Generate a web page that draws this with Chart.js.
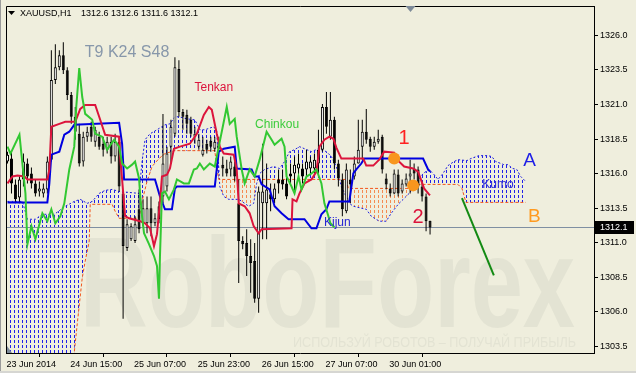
<!DOCTYPE html>
<html><head><meta charset="utf-8">
<script src="https://cdn.jsdelivr.net/npm/chart.js@4.4.1/dist/chart.umd.min.js"></script>
<style>html,body{margin:0;padding:0;background:#efeedd;}canvas{display:block;}</style>
</head><body>
<canvas id="c" width="636" height="373"></canvas>
<script>
const symbol = 'XAUUSD,H1';
const opens = [1316.87,1317.09,1315.22,1314.28,1315.58,1316.73,1316.01,1315.29,1314.71,1314.57,
1314.86,1317.01,1322.77,1323.70,1324.56,1323.48,1321.69,1320.11,1318.88,1316.87,
1318.67,1319.39,1318.31,1318.67,1318.16,1317.73,1318.31,1317.23,1318.31,1314.57,
1310.62,1311.26,1311.12,1313.42,1312.41,1312.41,1313.49,1312.41,1313.64,1314.35,
1315.07,1317.95,1318.88,1323.56,1320.46,1320.25,1319.89,1318.67,1317.95,1317.37,
1318.16,1318.38,1317.80,1318.16,1316.65,1316.37,1316.30,1316.51,1313.85,1311.12,
1310.98,1310.04,1309.68,1306.95,1313.85,1313.85,1314.50,1314.14,1315.58,1315.58,
1315.29,1316.01,1316.01,1316.37,1316.37,1316.30,1316.37,1316.37,1316.73,1317.73,
1320.82,1318.67,1319.89,1316.73,1315.58,1313.28,1315.58,1315.79,1316.73,1317.95,
1319.03,1318.52,1317.95,1318.31,1318.67,1315.65,1314.93,1314.57,1315.93,1314.71,
1315.22,1315.79,1316.37,1316.30,1315.07,1314.35,1312.6];
const highs = [1317.59,1317.59,1315.58,1315.79,1317.45,1317.09,1316.44,1315.58,1315.43,1315.29,
1317.23,1324.92,1325.35,1324.92,1325.50,1323.70,1321.90,1320.82,1319.60,1319.03,
1319.39,1319.75,1319.39,1319.03,1318.67,1318.67,1318.67,1318.88,1318.67,1314.71,
1312.70,1312.41,1312.92,1314.86,1314.14,1314.35,1314.35,1313.13,1313.99,1320.32,
1317.95,1319.89,1324.42,1324.20,1320.68,1320.61,1320.11,1319.39,1318.88,1318.67,
1318.45,1318.67,1318.67,1318.67,1317.23,1317.01,1317.23,1316.87,1315.58,1311.48,
1311.98,1311.26,1310.98,1315.07,1318.16,1316.73,1315.29,1315.29,1316.30,1316.30,
1316.30,1316.73,1317.23,1317.45,1316.73,1317.73,1317.23,1317.45,1319.17,1321.04,
1321.90,1321.90,1320.11,1317.01,1316.01,1316.73,1316.30,1317.23,1319.89,1319.89,
1320.68,1318.67,1318.67,1319.17,1318.81,1316.01,1315.29,1316.30,1316.30,1315.58,
1316.01,1317.01,1316.73,1316.51,1315.43,1314.57,1312.6];
const lows = [1316.73,1314.57,1313.85,1313.85,1315.07,1315.29,1314.93,1314.35,1314.35,1314.28,
1314.57,1316.87,1322.48,1323.48,1323.20,1321.33,1319.60,1318.45,1316.51,1316.51,
1318.31,1318.31,1317.95,1317.73,1317.23,1317.45,1316.73,1316.87,1314.71,1305.51,
1310.40,1311.12,1310.98,1311.69,1312.20,1311.69,1311.48,1312.20,1312.41,1313.85,
1314.71,1316.73,1318.67,1320.11,1319.17,1318.88,1318.67,1318.16,1317.73,1317.23,
1317.45,1317.59,1317.59,1317.59,1315.79,1315.79,1315.79,1315.43,1308.10,1310.54,
1308.60,1307.38,1306.66,1305.94,1311.26,1311.26,1313.28,1313.85,1314.57,1314.86,
1314.14,1315.29,1314.57,1315.79,1315.29,1315.79,1316.01,1316.01,1316.01,1317.59,
1318.88,1318.45,1316.30,1315.07,1312.92,1313.13,1313.85,1315.58,1316.73,1317.01,
1318.16,1317.59,1317.73,1318.16,1316.01,1314.86,1314.35,1314.50,1314.35,1314.57,
1315.07,1314.57,1315.58,1314.57,1313.99,1311.84,1311.6];
const closes = [1317.37,1315.29,1314.14,1315.58,1316.87,1315.79,1315.29,1314.57,1314.93,1314.93,
1316.87,1322.77,1323.70,1324.56,1323.48,1321.69,1320.11,1319.03,1316.73,1318.67,
1319.03,1318.67,1319.17,1317.95,1317.73,1318.31,1317.23,1318.31,1315.07,1310.76,
1312.34,1312.20,1312.34,1311.98,1313.49,1313.49,1312.41,1312.77,1312.70,1316.73,
1317.45,1319.39,1323.70,1320.46,1320.11,1319.60,1318.88,1318.88,1318.45,1317.73,
1317.73,1317.95,1318.31,1317.80,1316.37,1316.01,1316.87,1315.79,1311.12,1310.90,
1310.04,1309.54,1306.95,1314.71,1314.71,1314.86,1314.14,1314.93,1315.29,1315.22,
1314.35,1315.79,1316.65,1316.73,1315.79,1316.87,1316.87,1317.01,1317.73,1320.82,
1319.39,1319.89,1316.73,1315.65,1313.42,1316.30,1315.22,1316.73,1317.73,1319.03,
1318.45,1317.95,1318.31,1318.52,1316.30,1315.22,1314.57,1316.01,1314.57,1315.29,
1315.65,1316.01,1316.01,1315.07,1314.35,1312.56,1312.1];

// Ichimoku lines: [bar index, price] vertices
const tenkan = [[0,1315.29],[1.25,1315.79],[2.5,1315.86],[4.25,1315.79],[5,1315.58],[10,1315.58],[10.5,1316.30],[11,1319.39],[13,1319.60],[14.5,1319.75],[17,1319.75],[18.25,1320.68],[19.5,1320.97],[22,1320.97],[23,1320.11],[24.5,1318.81],[28,1318.67],[28.25,1317.23],[28.75,1315.58],[29.5,1312.92],[30.5,1312.77],[33.25,1312.56],[34.5,1312.41],[35.75,1312.05],[36.75,1310.76],[37.5,1311.62],[38.25,1313.99],[38.75,1315.79],[40,1315.93],[40.75,1316.37],[41.75,1317.80],[43.25,1317.95],[45.75,1318.16],[47.5,1318.88],[49.25,1320.25],[50.5,1320.82],[51.25,1320.61],[52.5,1318.88],[53.25,1317.95],[54.25,1317.45],[56.75,1317.37],[57.5,1316.30],[58,1313.85],[59.5,1313.64],[60.75,1313.13],[61.75,1312.20],[63,1311.69],[63.75,1311.98],[71.25,1312.05],[71.5,1314.14],[72.5,1313.99],[73.25,1314.57],[74.5,1315.29],[76.25,1315.58],[77.5,1316.15],[78.25,1317.95],[79.5,1318.45],[80.75,1318.67],[81.75,1318.52],[82.5,1317.88],[83.75,1317.09],[89.25,1317.09],[90,1316.58],[91.75,1316.58],[93.25,1317.01],[94.5,1317.59],[97,1317.52],[98.25,1316.87],[99.5,1316.51],[101.75,1316.37],[103,1316.15],[104.5,1314.93],[105.75,1314.50],[106,1314.43]];
const kijun = [[0,1313.92],[10,1313.92],[10.5,1315.29],[11,1317.37],[13,1317.59],[14.25,1318.81],[15.5,1319.03],[16.75,1319.53],[28,1319.67],[28.75,1318.16],[29.25,1315.58],[37,1315.58],[38.25,1314.35],[39.5,1313.42],[41.25,1313.42],[42,1314.93],[42.5,1315.07],[52,1315.07],[53,1317.59],[54.25,1317.80],[57,1317.95],[57.5,1316.37],[61.25,1316.30],[62,1315.79],[63,1315.79],[63.75,1315.22],[65.75,1314.86],[67,1313.64],[68.75,1313.13],[70.5,1312.70],[74.5,1312.70],[76.25,1312.05],[77.5,1312.05],[78.75,1313.06],[80,1313.42],[80.75,1313.99],[85.75,1313.99],[86.75,1316.01],[87.5,1316.30],[88.75,1316.73],[89.5,1317.09],[104.25,1317.09],[105.5,1316.30],[106,1316.15]];
const chinkou = [[0,1317.95],[0.75,1317.45],[3,1318.81],[4.5,1314.57],[5,1310.90],[6,1312.20],[7,1311.26],[8.75,1313.13],[10,1312.56],[11,1313.42],[12,1312.41],[13.25,1312.92],[14.25,1313.85],[15.5,1316.30],[16.75,1317.95],[17.25,1320.82],[18,1323.63],[18.75,1321.54],[19.5,1320.32],[21.25,1319.89],[22,1318.88],[23.75,1318.67],[25,1317.73],[26.75,1318.45],[28,1317.95],[28.75,1316.73],[30,1316.37],[31.25,1316.65],[32,1316.87],[33,1315.65],[33.25,1314.57],[33.75,1312.92],[34.25,1311.69],[35.5,1310.90],[36.75,1310.04],[37.5,1309.32],[38,1306.95],[38.25,1310.04],[38.75,1314.57],[39.5,1314.71],[40.5,1314.14],[41.75,1314.86],[42.5,1315.58],[44.25,1315.29],[45.5,1315.29],[46.75,1316.30],[47.5,1316.37],[48.25,1316.73],[49.25,1316.30],[50.75,1316.73],[52,1316.51],[53.25,1318.31],[55,1320.82],[55.75,1319.60],[57,1319.96],[57.5,1318.67],[58.75,1316.30],[59.5,1315.29],[60.75,1316.30],[62,1315.79],[63.25,1317.01],[64.25,1318.16],[65,1319.03],[66.25,1318.45],[67,1318.09],[68.75,1318.52],[69.5,1317.95],[70,1315.79],[71.25,1315.07],[72,1314.57],[73,1315.79],[73.75,1314.86],[75,1315.79],[76.25,1316.01],[77.5,1316.30],[78.75,1315.29],[79.5,1313.85],[80.5,1312.92],[81,1312.41],[82,1312.12]];
const spanA = [[0,1313.99],[3.75,1313.99],[5,1312.70],[7,1312.70],[8.75,1313.06],[11.75,1313.06],[14.5,1313.64],[16.75,1313.99],[18.25,1314.14],[20,1313.85],[21.25,1313.99],[23,1314.57],[24.5,1314.79],[26.25,1314.86],[28,1314.71],[33,1314.57],[33.75,1316.87],[34.5,1318.45],[35.75,1318.88],[37.5,1319.17],[39.5,1319.53],[40.75,1319.60],[42,1320.11],[43,1320.11],[45,1319.96],[47,1319.89],[48.25,1319.17],[49.5,1319.17],[51.75,1319.39],[52.5,1319.03],[53.25,1315.07],[54.25,1314.35],[55.5,1314.14],[58,1314.14],[59.5,1313.85],[60.5,1313.64],[61.75,1313.85],[62.5,1315.29],[63.25,1316.01],[64.5,1316.30],[66.75,1316.51],[68.25,1316.37],[69.5,1316.87],[70.75,1317.59],[72,1317.73],[73.25,1317.95],[74.5,1317.80],[76.25,1317.59],[78,1317.80],[80,1317.59],[81.25,1317.23],[82.5,1316.51],[83.75,1315.07],[85.75,1313.85],[86.75,1313.64],[90,1313.42],[91.25,1312.92],[93.25,1312.56],[95,1312.56],[96.25,1313.13],[98,1313.78],[99.25,1314.14],[100.75,1314.57],[102.5,1315.22],[104.25,1316.01],[105.75,1316.30],[107,1315.93],[108,1315.58],[109.25,1316.01],[110.5,1316.58],[112,1316.87],[113,1317.01],[115.25,1316.94],[116.25,1317.09],[118.25,1317.30],[120.5,1317.30],[121.5,1317.23],[122.5,1316.87],[124.5,1316.65],[125.5,1316.65],[126.75,1316.37],[127.75,1316.30],[128.75,1315.79],[130,1315.43]];
const spanB = [[0,1298.18],[15.25,1298.18],[16.75,1303.07],[17.5,1305.15],[18.75,1308.46],[19.5,1309.68],[20.5,1311.12],[20.75,1313.78],[26.25,1313.78],[27,1313.28],[28,1312.77],[33,1312.77],[33.75,1313.99],[35,1315.43],[36.25,1316.51],[38,1317.09],[39.5,1317.45],[42,1317.66],[52,1317.66],[52.5,1316.51],[53,1315.58],[85,1315.58],[85.5,1314.93],[101.75,1314.93],[102.25,1315.22],[113,1315.22],[114,1314.93],[115,1313.92],[130,1313.92]];

// drawn marks
const markBars = [97, 101.75];
const markPrices = [1317.09, 1315.15];
const arrowBars = [114, 122];
const arrowPrices = [1314.23, 1308.65];

const xTickBars = [0, 16, 32, 48, 64, 80, 96];
const xTickLabels = ['23 Jun 2014', '24 Jun 15:00', '25 Jun 07:00', '25 Jun 23:00', '26 Jun 15:00', '27 Jun 07:00', '30 Jun 01:00'];
const yTicks = [1303.5, 1306.0, 1308.5, 1311.0, 1313.5, 1316.0, 1318.5, 1321.0, 1323.5, 1326.0];

const notes = [
  {text:'T9 K24 S48', bar:19.4, price:1324.45, color:'#8797aa', size:16},
  {text:'Tenkan', bar:46.9, price:1321.94, color:'#dc143c', size:12},
  {text:'Chinkou', bar:62.1, price:1319.28, color:'#3ccc3c', size:12},
  {text:'Kijun', bar:79.4, price:1312.2, color:'#2525d4', size:12},
  {text:'Kumo', bar:119.1, price:1314.97, color:'#3030d8', size:12},
  {text:'1', bar:98.1, price:1318.13, color:'#ff2020', size:20},
  {text:'2', bar:101.6, price:1312.45, color:'#dc143c', size:20},
  {text:'A', bar:129.4, price:1316.55, color:'#1e1ee6', size:19},
  {text:'B', bar:130.6, price:1312.52, color:'#ff9a1f', size:19}
];

const FONT = '"Liberation Sans", Arial, sans-serif';
Chart.defaults.font.family = FONT;
const canvas = document.getElementById('c');
const ctx = canvas.getContext('2d');

function hatch(color) {
  const c = document.createElement('canvas');
  c.width = 4; c.height = 5;
  const g = c.getContext('2d');
  g.fillStyle = color;
  g.fillRect(2, 0, 1, 3);
  return ctx.createPattern(c, 'repeat');
}
const pts = arr => arr.map(([x, y]) => ({x, y}));
const last = closes.length - 1;

const decor = {
  id: 'decor',
  beforeDraw(chart) {
    const c = chart.ctx;
    c.save();
    c.fillStyle = '#efeedd';
    c.fillRect(0, 0, chart.width, chart.height);
    c.fillStyle = '#9a9a9a'; c.fillRect(0, 0, 1, chart.height);
    c.fillStyle = '#d6d6d2'; c.fillRect(0, chart.height - 2, chart.width, 2);
    c.fillStyle = '#e3e3d3';
    c.font = 'bold 128px ' + FONT;
    c.textBaseline = 'alphabetic'; c.textAlign = 'left';
    let w = c.measureText('RoboForex').width;
    c.save(); c.translate(80, 327); c.scale(495 / w, 1); c.fillText('RoboForex', 0, 0); c.restore();
    c.font = '14px ' + FONT;
    const sub = 'ИСПОЛЬЗУЙ РОБОТОВ – ПОЛУЧАЙ ПРИБЫЛЬ';
    w = c.measureText(sub).width;
    c.save(); c.translate(293, 347); c.scale(283 / w, 1); c.fillText(sub, 0, 0); c.restore();
    c.restore();
  },
  beforeDatasetsDraw(chart) {
    const c = chart.ctx, a = chart.chartArea, y = chart.scales.y;
    const py = Math.floor(y.getPixelForValue(closes[last])) + 0.5;
    c.save();
    c.strokeStyle = '#7f8fa2'; c.lineWidth = 1;
    c.beginPath(); c.moveTo(a.left, py); c.lineTo(a.right, py); c.stroke();
    c.restore();
  },
  afterDatasetsDraw(chart) {
    const c = chart.ctx, x = chart.scales.x, y = chart.scales.y;
    c.save();
    c.textAlign = 'left'; c.textBaseline = 'alphabetic';
    notes.forEach(n => {
      c.font = n.size + 'px ' + FONT;
      c.fillStyle = n.color;
      c.fillText(n.text, x.getPixelForValue(n.bar), y.getPixelForValue(n.price));
    });
    c.restore();
  },
  afterDraw(chart) {
    const c = chart.ctx, a = chart.chartArea, y = chart.scales.y, x = chart.scales.x;
    c.save();
    c.strokeStyle = '#000'; c.lineWidth = 1;
    c.beginPath();
    c.moveTo(a.left + 0.5, a.bottom); c.lineTo(a.left + 0.5, a.top + 0.5); c.lineTo(a.right + 1, a.top + 0.5);
    c.stroke();
    const mx = Math.round(x.getPixelForValue(101)) + 0.5;
    c.fillStyle = '#7d8a98';
    c.beginPath(); c.moveTo(mx - 5, a.top); c.lineTo(mx + 5, a.top); c.lineTo(mx, a.top + 6); c.closePath(); c.fill();
    c.beginPath(); c.moveTo(a.left + 1, a.bottom - 7); c.lineTo(a.left + 1, a.bottom); c.lineTo(a.left + 6, a.bottom); c.closePath(); c.fill();
    c.fillStyle = '#000';
    c.beginPath(); c.moveTo(8, 11); c.lineTo(15, 11); c.lineTo(11.5, 15); c.closePath(); c.fill();
    c.font = '9px ' + FONT; c.textBaseline = 'alphabetic'; c.textAlign = 'left';
    c.fillText(symbol, 20, 16);
    c.fillText([opens[last], highs[last], lows[last], closes[last]].map(v => v.toFixed(1)).join(' '), 81, 16);
    const py = Math.floor(y.getPixelForValue(closes[last]));
    c.fillStyle = '#000';
    c.fillRect(a.right + 1, py - 6, 39, 13);
    c.fillStyle = '#fff';
    c.textBaseline = 'middle';
    c.fillText(closes[last].toFixed(1), a.right + 6, py + 0.5);
    c.restore();
  }
};

new Chart(ctx, {
  type: 'bar',
  data: {
    datasets: [
      {type:'line', label:'Senkou Span A', data: pts(spanA), borderColor:'#1c1ce0', borderWidth:1, borderDash:[2,2],
       pointRadius:0, tension:0, order:20,
       fill:{target:1, above: hatch('#2020e8'), below: hatch('#f58a50')}},
      {type:'line', label:'Senkou Span B', data: pts(spanB), borderColor:'#f2561c', borderWidth:1, borderDash:[3,2],
       pointRadius:0, tension:0, order:19, fill:false},
      {type:'bar', label:'Wicks', data: opens.map((o, i) => ({x:i, y:[lows[i], highs[i]]})),
       backgroundColor:'#000', borderWidth:0, barThickness:1, grouped:false, inflateAmount:0, order:6},
      {type:'bar', label:'Bodies', data: opens.map((o, i) => ({x:i, y:[o, closes[i]]})),
       backgroundColor: opens.map((o, i) => closes[i] >= o ? '#ffffff' : '#000000'),
       borderColor:'#000', borderWidth:1, borderSkipped:false, barThickness:3, grouped:false,
       minBarLength:1, inflateAmount:0, order:5},
      {type:'line', label:'Kijun', data: pts(kijun), borderColor:'#0000e0', borderWidth:2, pointRadius:0, tension:0, order:3},
      {type:'line', label:'Tenkan', data: pts(tenkan), borderColor:'#dc143c', borderWidth:2, pointRadius:0, tension:0, order:2},
      {type:'line', label:'Chinkou', data: pts(chinkou), borderColor:'#32c832', borderWidth:2, pointRadius:0, tension:0, order:1},
      {type:'line', label:'Arrow', data: arrowBars.map((b, i) => ({x:b, y:arrowPrices[i]})), borderColor:'#138a13', borderWidth:2, pointRadius:0, order:0},
      {type:'line', label:'Marks', data: markBars.map((b, i) => ({x:b, y:markPrices[i]})), showLine:false,
       pointRadius:6, pointBackgroundColor:'#f8961e', pointBorderWidth:0, order:0}
    ]
  },
  options: {
    responsive:false, devicePixelRatio:1, animation:false, events:[],
    layout:{padding:{left:4, top:4, right:0, bottom:0}},
    plugins:{legend:{display:false}, tooltip:{enabled:false}, filler:{propagate:false, drawTime:'beforeDatasetsDraw'}},
    scales:{
      x:{type:'linear', min:-0.375, max:147.125, offset:false, bounds:'data',
         grid:{drawOnChartArea:false, drawTicks:true, tickLength:4, color:'#000', tickColor:'#000'},
         border:{display:true, color:'#000', width:1},
         afterBuildTicks: s => { s.ticks = xTickBars.map(v => ({value:v})); },
         afterFit: s => { s.height = 20; s.paddingLeft = 0; s.paddingRight = 0; },
         ticks:{autoSkip:false, maxRotation:0, minRotation:0, align:'start', padding:2, labelOffset:-1,
                color:'#000', font:{size:9, family:FONT}, callback:(v, i) => xTickLabels[i]}},
      y:{type:'linear', position:'right', min:1303.03, max:1328.12, bounds:'data',
         grid:{drawOnChartArea:false, drawTicks:true, tickLength:4, color:'#000', tickColor:'#000'},
         border:{display:true, color:'#000', width:1},
         afterBuildTicks: s => { s.ticks = yTicks.map(v => ({value:v})); },
         afterFit: s => { s.width = 42; s.paddingTop = 0; s.paddingBottom = 0; },
         ticks:{padding:2, color:'#000', font:{size:9, family:FONT}, callback: v => Number(v).toFixed(1)}}
    }
  },
  plugins:[decor]
});
</script>
</body></html>
